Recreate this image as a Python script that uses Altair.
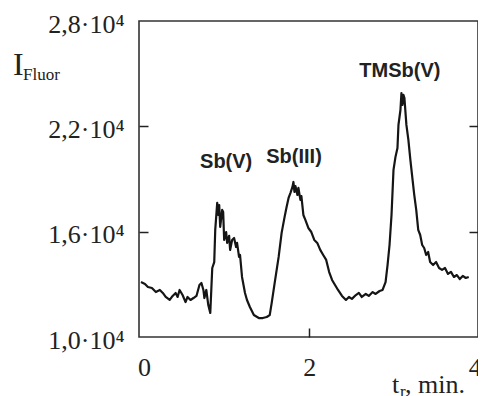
import altair as alt
import pandas as pd

# retention time, min
time_min = [-0.036, 0.012, 0.048, 0.096, 0.144, 0.192, 0.228, 0.263, 0.311, 0.347,
            0.383, 0.407, 0.431, 0.467, 0.503, 0.527, 0.563, 0.599, 0.635, 0.671,
            0.695, 0.719, 0.731, 0.754, 0.778, 0.802, 0.826, 0.850, 0.862, 0.886,
            0.898, 0.910, 0.922, 0.946, 0.958, 0.970, 0.994, 1.006, 1.030, 1.042,
            1.066, 1.090, 1.114, 1.126, 1.150, 1.162, 1.186, 1.222, 1.246, 1.281,
            1.329, 1.389, 1.437, 1.485, 1.521, 1.545, 1.581, 1.605, 1.629, 1.665,
            1.701, 1.725, 1.749, 1.772, 1.796, 1.808, 1.820, 1.832, 1.856, 1.868,
            1.892, 1.904, 1.928, 1.952, 1.988, 2.024, 2.060, 2.096, 2.132, 2.168,
            2.204, 2.240, 2.275, 2.311, 2.347, 2.395, 2.443, 2.479, 2.515, 2.563,
            2.599, 2.635, 2.683, 2.719, 2.766, 2.802, 2.850, 2.886, 2.922, 2.946,
            2.970, 2.994, 3.018, 3.042, 3.066, 3.078, 3.102, 3.114, 3.126, 3.138,
            3.150, 3.174, 3.198, 3.222, 3.246, 3.269, 3.293, 3.317, 3.341, 3.365,
            3.389, 3.413, 3.437, 3.461, 3.497, 3.533, 3.569, 3.605, 3.641, 3.677,
            3.713, 3.749, 3.785, 3.820, 3.856, 3.892, 3.928]

# fluorescence intensity
intensity = [13130, 13020, 12850, 12790, 12560, 12680, 12510, 12280, 12110, 12340,
             12510, 12280, 12680, 12390, 11990, 12280, 12110, 12220, 12340, 12960,
             13080, 12680, 12220, 12680, 11820, 11370, 13930, 14270, 16100, 17640,
             16950, 17520, 16270, 17240, 17120, 15530, 15980, 15360, 15760, 14960,
             15530, 15640, 15130, 15360, 14560, 14670, 13420, 12510, 12110, 11710,
             11250, 11080, 11080, 11140, 11250, 11940, 13080, 13820, 14560, 15930,
             16840, 17410, 17920, 18210, 18550, 18830, 18260, 18600, 18090, 18490,
             17810, 18030, 16950, 16670, 16210, 15980, 15530, 15360, 14960, 14670,
             14390, 13700, 13250, 12960, 12680, 12340, 12110, 12280, 12170, 12390,
             12510, 12280, 12450, 12340, 12560, 12450, 12620, 12680, 13130, 14100,
             15240, 16950, 19520, 20260, 20770, 22080, 22930, 23900, 23220, 23790,
             23620, 22080, 21230, 20090, 19060, 18090, 17240, 16100, 15810, 15240,
             15070, 14670, 14840, 14270, 14100, 14270, 13930, 13820, 13930, 13590,
             13710, 13420, 13530, 13300, 13480, 13360, 13420]

peak_names = ["Sb(V)", "Sb(III)", "TMSb(V)"]
peak_x = [0.994, 1.815, 3.095]
peak_y = [19970, 20260, 25160]

y_tick_values = [10000, 16000, 22000, 28000]
y_tick_labels = ["1,0·10⁴", "1,6·10⁴", "2,2·10⁴", "2,8·10⁴"]
x_tick_values = [0, 2, 4]
x_tick_labels = ["0", "2", "4"]
inner_y_ticks = [16000, 22000]
inner_x_ticks = [2]

df = pd.DataFrame({"t": time_min, "I": intensity})
peaks = pd.DataFrame({"name": peak_names, "t": peak_x, "I": peak_y})


def label_expr(values, labels):
    expr = "''"
    for v, l in reversed(list(zip(values, labels))):
        expr = f"datum.value == {v} ? '{l}' : ({expr})"
    return expr


SERIF = "Liberation Serif"
INK = "#222"
x_scale = alt.Scale(domain=[-0.06, 4.04], nice=False, zero=False)
y_scale = alt.Scale(domain=[10000, 28000], nice=False, zero=False)

# label-only axes
x_axis = alt.Axis(
    values=x_tick_values, labelExpr=label_expr(x_tick_values, x_tick_labels),
    orient="bottom", ticks=False, domain=False, grid=False,
    labelFont=SERIF, labelFontSize=26, labelColor=INK, labelPadding=17,
    labelFlush=False, labelOverlap=False, title=None,
)
y_axis = alt.Axis(
    values=y_tick_values, labelExpr=label_expr(y_tick_values, y_tick_labels),
    orient="left", ticks=False, domain=False, grid=False,
    labelFont=SERIF, labelFontSize=26, labelColor=INK, labelPadding=15,
    labelOffset=3, labelFlush=False, labelOverlap=False, title=None,
)


def inner_axis(values, orient):
    return alt.Axis(
        values=values, orient=orient, offset=-9, tickSize=9, domain=False,
        grid=False, labels=False, tickColor=INK, tickWidth=1.5, title=None,
    )


line = alt.Chart(df).mark_line(color="#151515", strokeWidth=2.2, strokeJoin="round").encode(
    x=alt.X("t:Q", scale=x_scale, axis=x_axis),
    y=alt.Y("I:Q", scale=y_scale, axis=y_axis),
)

left_ticks = alt.Chart(df).mark_point(opacity=0).encode(
    x=alt.X("t:Q", scale=x_scale, axis=inner_axis(inner_x_ticks, "bottom")),
    y=alt.Y("I:Q", scale=y_scale, axis=inner_axis(inner_y_ticks, "left")),
)
right_ticks = alt.Chart(df).mark_point(opacity=0).encode(
    x=alt.X("t:Q", scale=x_scale, axis=None),
    y=alt.Y("I:Q", scale=y_scale, axis=inner_axis(inner_y_ticks, "right")),
)

peak_text = alt.Chart(peaks).mark_text(
    font="Liberation Sans", fontSize=20, fontWeight="bold", color=INK,
    align="center", baseline="middle",
).encode(
    x=alt.X("t:Q", scale=x_scale, axis=None),
    y=alt.Y("I:Q", scale=y_scale, axis=None),
    text="name:N",
)

note = pd.DataFrame({"k": [0]})


def free_text(txt, size, x, y):
    return alt.Chart(note).mark_text(
        text=txt, font=SERIF, fontSize=size, color=INK, align="left", baseline="alphabetic"
    ).encode(x=alt.value(x), y=alt.value(y))


y_title_main = free_text("I", 32, -126, 54)
y_title_sub = free_text("Fluor", 17, -116, 59)
x_title_main = free_text("t", 26, 253, 372)
x_title_sub = free_text("r", 17, 261, 376)
x_title_rest = free_text(", min.", 26, 266, 372)

chart = alt.layer(
    line, left_ticks, right_ticks, peak_text,
    y_title_main, y_title_sub, x_title_main, x_title_sub, x_title_rest,
).resolve_axis(y="independent", x="independent").properties(
    width=339, height=316,
    background="white",
    autosize=alt.AutoSizeParams(type="none"),
    padding={"left": 131, "top": 13, "right": 0, "bottom": 62},
).configure_view(stroke="#333", strokeWidth=1.6)

chart.save("out.html", embed_options={"renderer": "svg", "actions": False})
